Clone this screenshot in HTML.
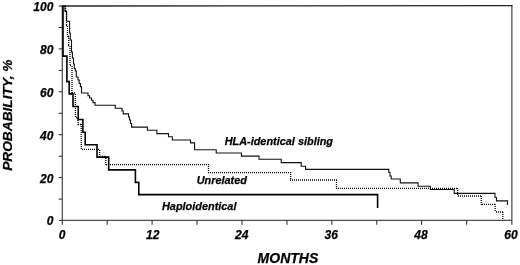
<!DOCTYPE html>
<html><head><meta charset="utf-8">
<style>
html,body{margin:0;padding:0;background:#fff;}
body{width:520px;height:265px;overflow:hidden;position:relative;}
svg{position:absolute;left:0;top:0;display:block;}
text{font-family:"Liberation Sans",Arial,sans-serif;font-weight:bold;font-style:italic;fill:#000;stroke:#000;stroke-width:0.25px;}
.t{font-size:12px;}
.a{font-size:14px;}
.l{font-size:10.9px;}
</style></head><body>
<svg width="520" height="265" viewBox="0 0 520 265">
<rect width="520" height="265" fill="#fff"/>
<!-- frame -->
<g stroke="#222" stroke-width="1" fill="none" shape-rendering="auto">
<path d="M62.25 6V220.3H511.9V5.6"/><path stroke-width="1.3" d="M61.7 6L512.5 5.6"/>
<!-- y ticks -->
<path d="M58.7 6H62M58.7 27.5H62M58.7 48.9H62M58.7 70.4H62M58.7 91.8H62M58.7 113.3H62M58.7 134.7H62M58.7 156.2H62M58.7 177.6H62M58.7 199.1H62M58.7 220.3H62"/>
<!-- x ticks -->
<path d="M62.25 220.3V224.8M107.2 220.3V224.8M152.1 220.3V224.8M197 220.3V224.8M242 220.3V224.8M287 220.3V224.8M331.9 220.3V224.8M376.8 220.3V224.8M421.7 220.3V224.8M466.7 220.3V224.8M511.9 220.3V224.8"/>
</g>
<!-- sibling -->
<path fill="none" stroke="#111" stroke-width="1.1" d="M62.3 6H65V11.5H66.6V21.2H69.6V33H70.3V40H71.5V52H72.4V58H73.5V64H74.3V68.5H75.3V71H76.3V77H78V80H79.2V83.5H80.4V86.6H81.5V93H88V95.7H89.6V98H91.5V100.3H93V102.6H95V105.2H115.3V108.3H122V111H123.2V113.9H128.5V117H129.5V120H130.5V123.5H131.6V127.1H147.4V130.3H156.9V133.6H168.5V136.8H172.3V140H190.5V142.9H194.6V149.7H216.2V153H241.4V156.1H259V159.3H281.2V162.6H301.2V166.2H305.6V169.4H388.8V172.5H390V176H391.2V179H400.3V182.9H418.1V186.2H430.4V189.5H454.2V193.4H495V197.5H496.5V200.9H507.5V205"/>
<!-- unrelated dotted -->
<path id="dots" fill="#000" d="M64.85 6h1.3v1h-1.3zM64.85 8h1.3v1h-1.3zM64.85 10h1.3v1h-1.3zM66 10.85h1v1.3h-1zM65.85 12h1.3v1h-1.3zM65.85 14h1.3v1h-1.3zM65.85 16h1.3v1h-1.3zM65.85 18h1.3v1h-1.3zM65.85 20h1.3v1h-1.3zM65.85 22h1.3v1h-1.3zM65.85 24h1.3v1h-1.3zM66 24.85h1v1.3h-1zM66.85 26h1.3v1h-1.3zM66.85 28h1.3v1h-1.3zM66.85 30h1.3v1h-1.3zM66.85 32h1.3v1h-1.3zM66.85 34h1.3v1h-1.3zM66.85 36h1.3v1h-1.3zM68 35.85h1v1.3h-1zM68.05 36h1.3v1h-1.3zM68.05 38h1.3v1h-1.3zM68.05 40h1.3v1h-1.3zM68.05 42h1.3v1h-1.3zM68.05 44h1.3v1h-1.3zM68 44.85h1v1.3h-1zM69.35 46h1.3v1h-1.3zM69.35 48h1.3v1h-1.3zM69.35 50h1.3v1h-1.3zM69.35 52h1.3v1h-1.3zM69.35 54h1.3v1h-1.3zM69.35 56h1.3v1h-1.3zM69.35 58h1.3v1h-1.3zM69.35 60h1.3v1h-1.3zM69.35 62h1.3v1h-1.3zM69.35 64h1.3v1h-1.3zM70 64.85h1v1.3h-1zM71.35 66h1.3v1h-1.3zM71.35 68h1.3v1h-1.3zM71.35 70h1.3v1h-1.3zM71.35 72h1.3v1h-1.3zM71.35 74h1.3v1h-1.3zM71.35 76h1.3v1h-1.3zM71.35 78h1.3v1h-1.3zM71.35 80h1.3v1h-1.3zM71.35 82h1.3v1h-1.3zM71.35 84h1.3v1h-1.3zM71.35 86h1.3v1h-1.3zM71.35 88h1.3v1h-1.3zM71.35 90h1.3v1h-1.3zM71.35 92h1.3v1h-1.3zM72 92.35h1v1.3h-1zM74 92.35h1v1.3h-1zM74.75 94h1.3v1h-1.3zM74.75 96h1.3v1h-1.3zM74.75 98h1.3v1h-1.3zM74.75 100h1.3v1h-1.3zM74.75 102h1.3v1h-1.3zM74.75 104h1.3v1h-1.3zM74.75 106h1.3v1h-1.3zM74.75 108h1.3v1h-1.3zM74.75 110h1.3v1h-1.3zM74.75 112h1.3v1h-1.3zM74.75 114h1.3v1h-1.3zM74.75 116h1.3v1h-1.3zM76 116.85h1v1.3h-1zM77.35 118h1.3v1h-1.3zM77.35 120h1.3v1h-1.3zM77.35 122h1.3v1h-1.3zM77.35 124h1.3v1h-1.3zM78 123.85h1v1.3h-1zM80 123.85h1v1.3h-1zM80.55 124h1.3v1h-1.3zM80.55 126h1.3v1h-1.3zM80.55 128h1.3v1h-1.3zM80.55 130h1.3v1h-1.3zM80.55 132h1.3v1h-1.3zM80.55 134h1.3v1h-1.3zM80.55 136h1.3v1h-1.3zM80.55 138h1.3v1h-1.3zM80.55 140h1.3v1h-1.3zM80.55 142h1.3v1h-1.3zM80.55 144h1.3v1h-1.3zM80.55 146h1.3v1h-1.3zM80.55 148h1.3v1h-1.3zM82 148.65h1v1.3h-1zM84 148.65h1v1.3h-1zM86 148.65h1v1.3h-1zM88 148.65h1v1.3h-1zM90 148.65h1v1.3h-1zM92 148.65h1v1.3h-1zM94 148.65h1v1.3h-1zM96 148.65h1v1.3h-1zM98 148.65h1v1.3h-1zM98.95 150h1.3v1h-1.3zM98.95 152h1.3v1h-1.3zM98.95 154h1.3v1h-1.3zM98.95 156h1.3v1h-1.3zM100 155.85h1v1.3h-1zM102 155.85h1v1.3h-1zM104 155.85h1v1.3h-1zM105.15 156h1.3v1h-1.3zM105.15 158h1.3v1h-1.3zM105.15 160h1.3v1h-1.3zM105.15 162h1.3v1h-1.3zM105.15 164h1.3v1h-1.3zM106 163.95h1v1.3h-1zM108 163.95h1v1.3h-1zM110 163.95h1v1.3h-1zM112 163.95h1v1.3h-1zM114 163.95h1v1.3h-1zM116 163.95h1v1.3h-1zM118 163.95h1v1.3h-1zM120 163.95h1v1.3h-1zM122 163.95h1v1.3h-1zM124 163.95h1v1.3h-1zM126 163.95h1v1.3h-1zM128 163.95h1v1.3h-1zM130 163.95h1v1.3h-1zM132 163.95h1v1.3h-1zM134 163.95h1v1.3h-1zM136 163.95h1v1.3h-1zM138 163.95h1v1.3h-1zM140 163.95h1v1.3h-1zM142 163.95h1v1.3h-1zM144 163.95h1v1.3h-1zM146 163.95h1v1.3h-1zM148 163.95h1v1.3h-1zM150 163.95h1v1.3h-1zM152 163.95h1v1.3h-1zM154 163.95h1v1.3h-1zM156 163.95h1v1.3h-1zM158 163.95h1v1.3h-1zM160 163.95h1v1.3h-1zM162 163.95h1v1.3h-1zM164 163.95h1v1.3h-1zM166 163.95h1v1.3h-1zM168 163.95h1v1.3h-1zM170 163.95h1v1.3h-1zM172 163.95h1v1.3h-1zM174 163.95h1v1.3h-1zM176 163.95h1v1.3h-1zM178 163.95h1v1.3h-1zM180 163.95h1v1.3h-1zM182 163.95h1v1.3h-1zM184 163.95h1v1.3h-1zM186 163.95h1v1.3h-1zM188 163.95h1v1.3h-1zM190 163.95h1v1.3h-1zM192 163.95h1v1.3h-1zM194 163.95h1v1.3h-1zM196 163.95h1v1.3h-1zM198 163.95h1v1.3h-1zM200 163.95h1v1.3h-1zM202 163.95h1v1.3h-1zM204 163.95h1v1.3h-1zM206 163.95h1v1.3h-1zM208 163.95h1v1.3h-1zM207.85 164h1.3v1h-1.3zM207.85 166h1.3v1h-1.3zM207.85 168h1.3v1h-1.3zM207.85 170h1.3v1h-1.3zM207.85 172h1.3v1h-1.3zM208 171.95h1v1.3h-1zM210 171.95h1v1.3h-1zM212 171.95h1v1.3h-1zM214 171.95h1v1.3h-1zM216 171.95h1v1.3h-1zM218 171.95h1v1.3h-1zM220 171.95h1v1.3h-1zM222 171.95h1v1.3h-1zM224 171.95h1v1.3h-1zM226 171.95h1v1.3h-1zM228 171.95h1v1.3h-1zM230 171.95h1v1.3h-1zM232 171.95h1v1.3h-1zM234 171.95h1v1.3h-1zM236 171.95h1v1.3h-1zM238 171.95h1v1.3h-1zM240 171.95h1v1.3h-1zM242 171.95h1v1.3h-1zM244 171.95h1v1.3h-1zM246 171.95h1v1.3h-1zM248 171.95h1v1.3h-1zM250 171.95h1v1.3h-1zM252 171.95h1v1.3h-1zM254 171.95h1v1.3h-1zM256 171.95h1v1.3h-1zM258 171.95h1v1.3h-1zM260 171.95h1v1.3h-1zM262 171.95h1v1.3h-1zM264 171.95h1v1.3h-1zM266 171.95h1v1.3h-1zM268 171.95h1v1.3h-1zM270 171.95h1v1.3h-1zM272 171.95h1v1.3h-1zM274 171.95h1v1.3h-1zM276 171.95h1v1.3h-1zM278 171.95h1v1.3h-1zM280 171.95h1v1.3h-1zM282 171.95h1v1.3h-1zM284 171.95h1v1.3h-1zM286 171.95h1v1.3h-1zM288 171.95h1v1.3h-1zM290 171.95h1v1.3h-1zM289.95 172h1.3v1h-1.3zM289.95 174h1.3v1h-1.3zM289.95 176h1.3v1h-1.3zM289.95 178h1.3v1h-1.3zM290 179.35h1v1.3h-1zM292 179.35h1v1.3h-1zM294 179.35h1v1.3h-1zM296 179.35h1v1.3h-1zM298 179.35h1v1.3h-1zM300 179.35h1v1.3h-1zM302 179.35h1v1.3h-1zM304 179.35h1v1.3h-1zM306 179.35h1v1.3h-1zM308 179.35h1v1.3h-1zM310 179.35h1v1.3h-1zM312 179.35h1v1.3h-1zM314 179.35h1v1.3h-1zM316 179.35h1v1.3h-1zM318 179.35h1v1.3h-1zM320 179.35h1v1.3h-1zM322 179.35h1v1.3h-1zM324 179.35h1v1.3h-1zM326 179.35h1v1.3h-1zM328 179.35h1v1.3h-1zM330 179.35h1v1.3h-1zM332 179.35h1v1.3h-1zM334 179.35h1v1.3h-1zM336 179.35h1v1.3h-1zM335.85 180h1.3v1h-1.3zM335.85 182h1.3v1h-1.3zM335.85 184h1.3v1h-1.3zM335.85 186h1.3v1h-1.3zM335.85 188h1.3v1h-1.3zM336 187.65h1v1.3h-1zM338 187.65h1v1.3h-1zM340 187.65h1v1.3h-1zM342 187.65h1v1.3h-1zM344 187.65h1v1.3h-1zM346 187.65h1v1.3h-1zM348 187.65h1v1.3h-1zM350 187.65h1v1.3h-1zM352 187.65h1v1.3h-1zM354 187.65h1v1.3h-1zM356 187.65h1v1.3h-1zM358 187.65h1v1.3h-1zM360 187.65h1v1.3h-1zM362 187.65h1v1.3h-1zM364 187.65h1v1.3h-1zM366 187.65h1v1.3h-1zM368 187.65h1v1.3h-1zM370 187.65h1v1.3h-1zM372 187.65h1v1.3h-1zM374 187.65h1v1.3h-1zM376 187.65h1v1.3h-1zM378 187.65h1v1.3h-1zM380 187.65h1v1.3h-1zM382 187.65h1v1.3h-1zM384 187.65h1v1.3h-1zM386 187.65h1v1.3h-1zM388 187.65h1v1.3h-1zM390 187.65h1v1.3h-1zM392 187.65h1v1.3h-1zM394 187.65h1v1.3h-1zM396 187.65h1v1.3h-1zM398 187.65h1v1.3h-1zM400 187.65h1v1.3h-1zM402 187.65h1v1.3h-1zM404 187.65h1v1.3h-1zM406 187.65h1v1.3h-1zM408 187.65h1v1.3h-1zM410 187.65h1v1.3h-1zM412 187.65h1v1.3h-1zM414 187.65h1v1.3h-1zM416 187.65h1v1.3h-1zM418 187.65h1v1.3h-1zM420 187.65h1v1.3h-1zM422 187.65h1v1.3h-1zM424 187.65h1v1.3h-1zM426 187.65h1v1.3h-1zM428 187.65h1v1.3h-1zM430 187.65h1v1.3h-1zM432 187.65h1v1.3h-1zM434 187.65h1v1.3h-1zM436 187.65h1v1.3h-1zM438 187.65h1v1.3h-1zM440 187.65h1v1.3h-1zM442 187.65h1v1.3h-1zM444 187.65h1v1.3h-1zM446 187.65h1v1.3h-1zM448 187.65h1v1.3h-1zM450 187.65h1v1.3h-1zM452 187.65h1v1.3h-1zM454 187.65h1v1.3h-1zM456 187.65h1v1.3h-1zM456.95 188h1.3v1h-1.3zM456.95 190h1.3v1h-1.3zM456.95 192h1.3v1h-1.3zM456.95 194h1.3v1h-1.3zM458 195.35h1v1.3h-1zM460 195.35h1v1.3h-1zM462 195.35h1v1.3h-1zM464 195.35h1v1.3h-1zM466 195.35h1v1.3h-1zM468 195.35h1v1.3h-1zM470 195.35h1v1.3h-1zM472 195.35h1v1.3h-1zM474 195.35h1v1.3h-1zM476 195.35h1v1.3h-1zM478 195.35h1v1.3h-1zM480 195.35h1v1.3h-1zM480.65 196h1.3v1h-1.3zM480.65 198h1.3v1h-1.3zM480.65 200h1.3v1h-1.3zM480.65 202h1.3v1h-1.3zM480.65 204h1.3v1h-1.3zM482 203.65h1v1.3h-1zM484 203.65h1v1.3h-1zM486 203.65h1v1.3h-1zM488 203.65h1v1.3h-1zM490 203.65h1v1.3h-1zM492 203.65h1v1.3h-1zM494 203.65h1v1.3h-1zM494.45 204h1.3v1h-1.3zM494.45 206h1.3v1h-1.3zM494.45 208h1.3v1h-1.3zM494.45 210h1.3v1h-1.3zM496 211.35h1v1.3h-1zM498 211.35h1v1.3h-1zM500 211.35h1v1.3h-1zM502 211.35h1v1.3h-1zM502.15 212h1.3v1h-1.3zM502.15 214h1.3v1h-1.3zM502.15 216h1.3v1h-1.3zM502.15 218h1.3v1h-1.3z"/>
<!-- haplo thick -->
<path fill="none" stroke="#000" stroke-width="1.6" d="M63 6V56.1H66.9V81.6H69.2V93.9H73V106.5H78.2V119.5H82.9V132.2H85.2V144.7H97V157.1H108.7V169.9H135.4V182.4H138.8V194.6H377.6V207.9"/>
<!-- tick labels -->
<g class="t" text-anchor="end">
<text x="53.4" y="10.6">100</text>
<text x="53.4" y="53.6">80</text>
<text x="53.4" y="96.5">60</text>
<text x="53.4" y="140">40</text>
<text x="53.4" y="183.2">20</text>
<text x="53.4" y="225.1">0</text>
</g>
<g class="t" text-anchor="middle">
<text x="62" y="238.8">0</text>
<text x="152.7" y="238.8">12</text>
<text x="241.7" y="238.8">24</text>
<text x="331.2" y="238.8">36</text>
<text x="421" y="238.8">48</text>
<text x="511" y="238.8">60</text>
</g>
<text class="a" x="257.6" y="262.8">MONTHS</text>
<text class="a" style="font-size:13.7px" transform="translate(12.3,170.8) rotate(-90)">PROBABILITY, %</text>
<text class="l" x="224.7" y="144.6">HLA-identical sibling</text>
<text class="l" x="196.7" y="184.1">Unrelated</text>
<text class="l" x="162" y="209.6">Haploidentical</text>
</svg>
</body></html>
